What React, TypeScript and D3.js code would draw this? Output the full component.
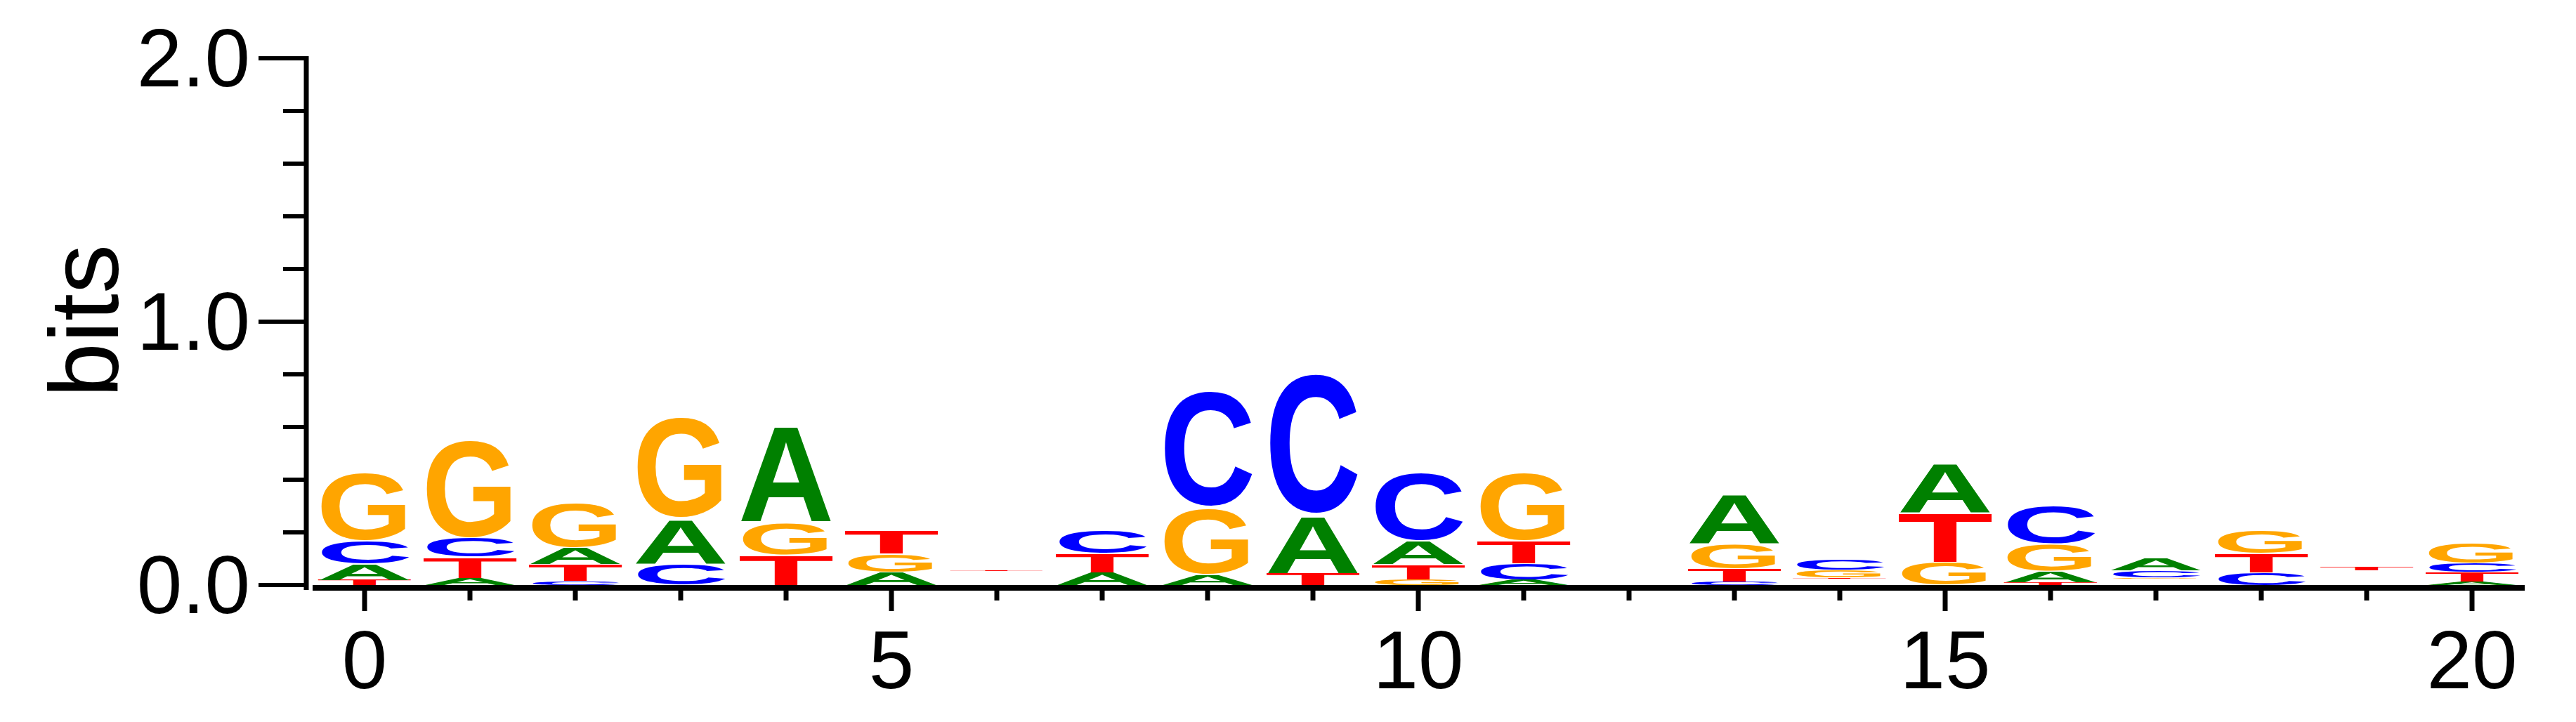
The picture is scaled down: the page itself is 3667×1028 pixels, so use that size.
import React, { useEffect, useRef } from "react";
import * as d3 from "d3";

const W = 3667, H = 1028;
const positions = d3.range(0, 21);
// each column: letters bottom -> top with heights in bits ("" = invisible spacer)
const col0 = [["T", 0.02], ["A", 0.06], ["C", 0.089], ["G", 0.267]];
const col1 = [["A", 0.027], ["T", 0.08], ["C", 0.073], ["G", 0.386]];
const col2 = [["C", 0.015], ["T", 0.065], ["A", 0.064], ["G", 0.173]];
const col3 = [["C", 0.08], ["A", 0.175], ["G", 0.398]];
const col4 = [["T", 0.116], ["G", 0.127], ["A", 0.379]];
const col5 = [["A", 0.049], ["G", 0.071], ["T", 0.089]];
const col6 = [["", 0.053], ["T", 0.003]];
const col7 = [["A", 0.049], ["T", 0.071], ["C", 0.089]];
const col8 = [["A", 0.04], ["G", 0.258], ["C", 0.458]];
const col9 = [["T", 0.046], ["A", 0.225], ["C", 0.554]];
const col10 = [["G", 0.022], ["T", 0.058], ["A", 0.089], ["C", 0.267]];
const col11 = [["A", 0.02], ["C", 0.062], ["T", 0.087], ["G", 0.267]];
const col12: [string, number][] = [];
const col13 = [["C", 0.013], ["T", 0.049], ["G", 0.098], ["A", 0.191]];
const col14 = [["", 0.024], ["T", 0.004], ["G", 0.03], ["C", 0.042]];
const col15 = [["G", 0.087], ["T", 0.191], ["A", 0.193]];
const col16 = [["T", 0.012], ["A", 0.042], ["G", 0.102], ["C", 0.147]];
const col17 = [["", 0.025], ["G", 0.004], ["C", 0.027], ["A", 0.047]];
const col18 = [["C", 0.049], ["T", 0.071], ["G", 0.09]];
const col19 = [["", 0.056], ["T", 0.013]];
const col20 = [["A", 0.013], ["T", 0.036], ["C", 0.034], ["G", 0.079]];
const columns = [col0, col1, col2, col3, col4, col5, col6, col7, col8, col9, col10,
  col11, col12, col13, col14, col15, col16, col17, col18, col19, col20] as [string, number][][];
const xTickLabels = [0, 5, 10, 15, 20];
const yTickLabels = ["0.0", "1.0", "2.0"];
const colors: Record<string, string> = { A: "#008000", C: "#0000FF", G: "#FFA500", T: "#FF0000" };

export default function App() {
  const ref = useRef<SVGSVGElement>(null);
  useEffect(() => {
    const svg = d3.select(ref.current);
    svg.selectAll("*").remove();
    const x = d3.scaleLinear().domain([0, 20]).range([519, 3519]);
    const y = d3.scaleLinear().domain([0, 2]).range([833, 83]);
    const colW = 137;
    const font = "Liberation Sans, Arial, sans-serif";

    const g = svg.append("g");
    columns.forEach((col, i) => {
      let acc = 0;
      col.forEach(([ch, h]) => {
        const y0 = y(acc + h), y1 = y(acc);
        acc += h;
        const hh = y1 - y0;
        if (!ch || hh <= 0) return;
        const t = g.append("text").text(ch).attr("font-family", font)
          .attr("font-weight", "bold").attr("font-size", 200).attr("fill", colors[ch]);
        const bb = (t.node() as SVGTextElement).getBBox();
        const capTop = -0.735 * 200, capBot = ch === "C" || ch === "G" ? 0.015 * 200 : 0;
        const gh = capBot - capTop;
        const sx = colW / bb.width, sy = hh / gh;
        t.attr("transform", `translate(${x(positions[i]) - colW / 2},${y0}) scale(${sx},${sy}) translate(${-bb.x},${-capTop})`);
      });
    });

    // y axis
    svg.append("line").attr("x1", 436).attr("x2", 436).attr("y1", 80).attr("y2", 840)
      .attr("stroke", "#000").attr("stroke-width", 7);
    d3.range(0, 2.0001, 0.2).forEach((v, k) => {
      const major = k % 5 === 0;
      svg.append("line").attr("x1", major ? 368 : 403).attr("x2", 436)
        .attr("y1", y(v)).attr("y2", y(v)).attr("stroke", "#000").attr("stroke-width", 6);
    });
    yTickLabels.forEach((l) => {
      svg.append("text").text(l).attr("x", 356).attr("y", y(+l) + 40).attr("text-anchor", "end")
        .attr("font-family", font).attr("font-size", 116).attr("fill", "#000");
    });
    svg.append("text").text("bits").attr("transform", `translate(168,457) rotate(-90)`)
      .attr("text-anchor", "middle").attr("font-family", font).attr("font-size", 140);

    // x axis
    svg.append("line").attr("x1", 445).attr("x2", 3594).attr("y1", 837).attr("y2", 837)
      .attr("stroke", "#000").attr("stroke-width", 8);
    positions.forEach((p) => {
      const major = p % 5 === 0;
      svg.append("line").attr("x1", x(p)).attr("x2", x(p)).attr("y1", 837).attr("y2", major ? 870 : 855)
        .attr("stroke", "#000").attr("stroke-width", 7);
    });
    xTickLabels.forEach((p) => {
      svg.append("text").text(String(p)).attr("x", x(p)).attr("y", 980).attr("text-anchor", "middle")
        .attr("font-family", font).attr("font-size", 116);
    });
  }, []);
  return (
    <svg ref={ref} width={W} height={H} style={{ position: "absolute", left: 0, top: 0, background: "#fff" }} />
  );
}
